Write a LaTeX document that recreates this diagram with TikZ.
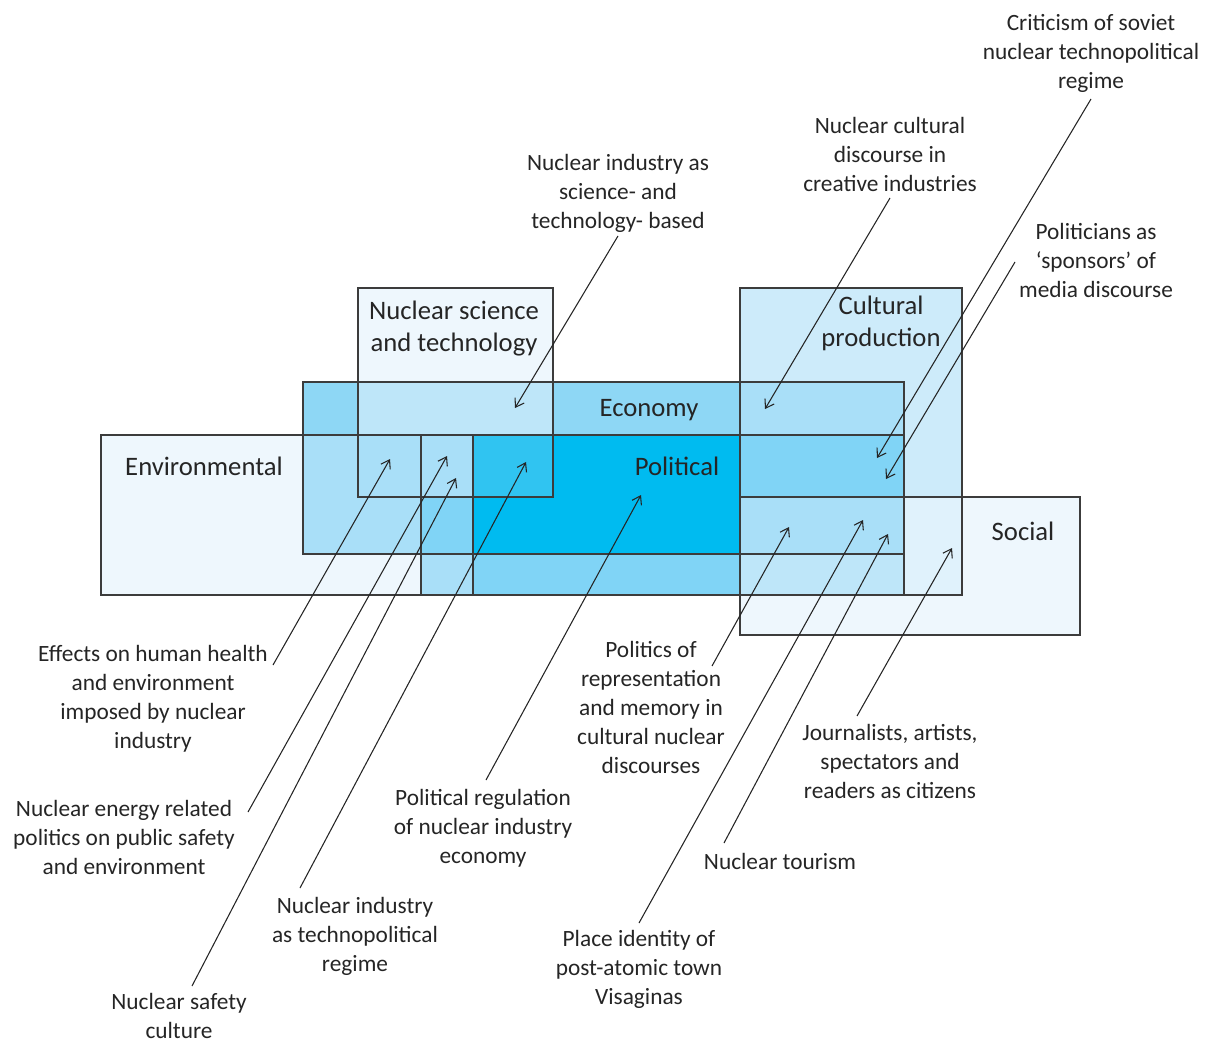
\documentclass[tikz,border=0pt]{standalone}
\usepackage{fontspec}
\setmainfont{Carlito}
\usetikzlibrary{arrows.meta}
\definecolor{inkgray}{HTML}{252525}
\definecolor{boxline}{HTML}{3C3C3C}
\definecolor{paleblue}{HTML}{EEF7FD}
\definecolor{cultblue}{HTML}{CDEBFA}
\definecolor{mixblue}{HTML}{E0F2FC}
\definecolor{lightblue}{HTML}{BEE6F9}
\definecolor{softblue}{HTML}{A9DFF8}
\definecolor{econblue}{HTML}{8ED7F5}
\definecolor{midblue}{HTML}{80D4F6}
\definecolor{deepblue}{HTML}{30C4F1}
\definecolor{polblue}{HTML}{00BBF0}

\begin{document}
\begin{tikzpicture}[x=0.75pt,y=-0.75pt]
		\tikzstyle{region}=[draw=boxline,line width=1.2pt]
		\tikzstyle{heading}=[font=\fontsize{20}{24}\selectfont,align=center,text=inkgray,inner sep=0pt]
		\tikzstyle{remark}=[font=\fontsize{17.5}{21.75}\selectfont,align=center,text=inkgray,inner sep=0pt]
		\tikzstyle{pointer}=[draw=inkgray,line width=0.8pt,-{Straight Barb[length=6pt,width=8pt]}]
		\useasboundingbox (0,0) rectangle (1205,1048);
		\fill[paleblue] (101,435) rectangle (473,595);
		\fill[paleblue] (358,288) rectangle (553,382);
		\fill[cultblue] (740,288) rectangle (962,595);
		\fill[paleblue] (740,497) rectangle (1080,635);
		\fill[mixblue] (904,497) rectangle (962,595);
		\fill[econblue] (303,382) rectangle (904,554);
		\fill[softblue] (303,435) rectangle (421,554);
		\fill[lightblue] (358,382) rectangle (553,435);
		\fill[softblue] (421,435) rectangle (473,497);
		\fill[midblue] (421,497) rectangle (473,554);
		\fill[softblue] (421,554) rectangle (473,595);
		\fill[polblue] (473,435) rectangle (740,554);
		\fill[deepblue] (473,435) rectangle (553,497);
		\fill[midblue] (473,554) rectangle (740,595);
		\fill[softblue] (740,382) rectangle (904,435);
		\fill[midblue] (740,435) rectangle (904,497);
		\fill[softblue] (740,497) rectangle (904,554);
		\fill[lightblue] (740,554) rectangle (904,595);
		\draw[region] (101,435) rectangle (473,595);
		\draw[region] (421,435) rectangle (904,595);
		\draw[region] (303,382) rectangle (904,554);
		\draw[region] (358,288) rectangle (553,497);
		\draw[region] (740,288) rectangle (962,595);
		\draw[region] (740,497) rectangle (1080,635);
		\node[heading] (environmental) at (204,466) {Environmental};
		\node[heading] (science) at (454,329) {Nuclear science\\and technology};
		\node[heading] (economy) at (649,410) {Economy};
		\node[heading] (political) at (677,466) {Political};
		\node[heading] (culture) at (881,323) {Cultural\\production};
		\node[heading] (social) at (1023,531) {Social};
		\node[remark] (criticism) at (1091,53) {Criticism of soviet\\nuclear technopolitical\\regime};
		\node[remark] (creative) at (890,154) {Nuclear cultural\\discourse in\\creative industries};
		\node[remark] (sponsors) at (1096,260) {Politicians as\\‘sponsors’ of\\media discourse};
		\node[remark] (scibased) at (618,193) {Nuclear industry as\\science- and\\technology- based};
		\node[remark] (health) at (153,699) {Effects on human health\\and environment\\imposed by nuclear\\industry};
		\node[remark] (safepolitics) at (124,837) {Nuclear energy related\\politics on public safety\\and environment};
		\node[remark] (safeculture) at (179,1016) {Nuclear safety\\culture};
		\node[remark] (regime) at (355,936) {Nuclear industry\\as technopolitical\\regime};
		\node[remark] (regulation) at (483,828) {Political regulation\\of nuclear industry\\economy};
		\node[remark] (memory) at (651,707) {Politics of\\representation\\and memory in\\cultural nuclear\\discourses};
		\node[remark] (visaginas) at (639,969) {Place identity of\\post-atomic town\\Visaginas};
		\node[remark] (tourism) at (780,861) {Nuclear tourism};
		\node[remark] (citizens) at (890,761) {Journalists, artists,\\spectators and\\readers as citizens};
		\coordinate (criticism-foot) at (1091,99);
		\coordinate (criticism-tip) at (877,458);
		\coordinate (creative-foot) at (890,198);
		\coordinate (creative-tip) at (765,409);
		\coordinate (sponsors-foot) at (1015,262);
		\coordinate (sponsors-tip) at (886,479);
		\coordinate (scibased-foot) at (618,236);
		\coordinate (scibased-tip) at (515,408);
		\coordinate (health-foot) at (273,665);
		\coordinate (health-tip) at (390,459);
		\coordinate (safepolitics-foot) at (248,812);
		\coordinate (safepolitics-tip) at (447,456);
		\coordinate (safeculture-foot) at (192,986);
		\coordinate (safeculture-tip) at (456,478);
		\coordinate (regime-foot) at (300,888);
		\coordinate (regime-tip) at (526,462);
		\coordinate (regulation-foot) at (486,780);
		\coordinate (regulation-tip) at (641,495);
		\coordinate (memory-foot) at (712,666);
		\coordinate (memory-tip) at (789,527);
		\coordinate (visaginas-foot) at (639,923);
		\coordinate (visaginas-tip) at (863,520);
		\coordinate (tourism-foot) at (724,843);
		\coordinate (tourism-tip) at (888,534);
		\coordinate (citizens-foot) at (857,716);
		\coordinate (citizens-tip) at (952,548);
		\draw[pointer] (criticism-foot) -- (criticism-tip);
		\draw[pointer] (creative-foot) -- (creative-tip);
		\draw[pointer] (sponsors-foot) -- (sponsors-tip);
		\draw[pointer] (scibased-foot) -- (scibased-tip);
		\draw[pointer] (health-foot) -- (health-tip);
		\draw[pointer] (safepolitics-foot) -- (safepolitics-tip);
		\draw[pointer] (safeculture-foot) -- (safeculture-tip);
		\draw[pointer] (regime-foot) -- (regime-tip);
		\draw[pointer] (regulation-foot) -- (regulation-tip);
		\draw[pointer] (memory-foot) -- (memory-tip);
		\draw[pointer] (visaginas-foot) -- (visaginas-tip);
		\draw[pointer] (tourism-foot) -- (tourism-tip);
		\draw[pointer] (citizens-foot) -- (citizens-tip);
	\end{tikzpicture}
\end{document}
